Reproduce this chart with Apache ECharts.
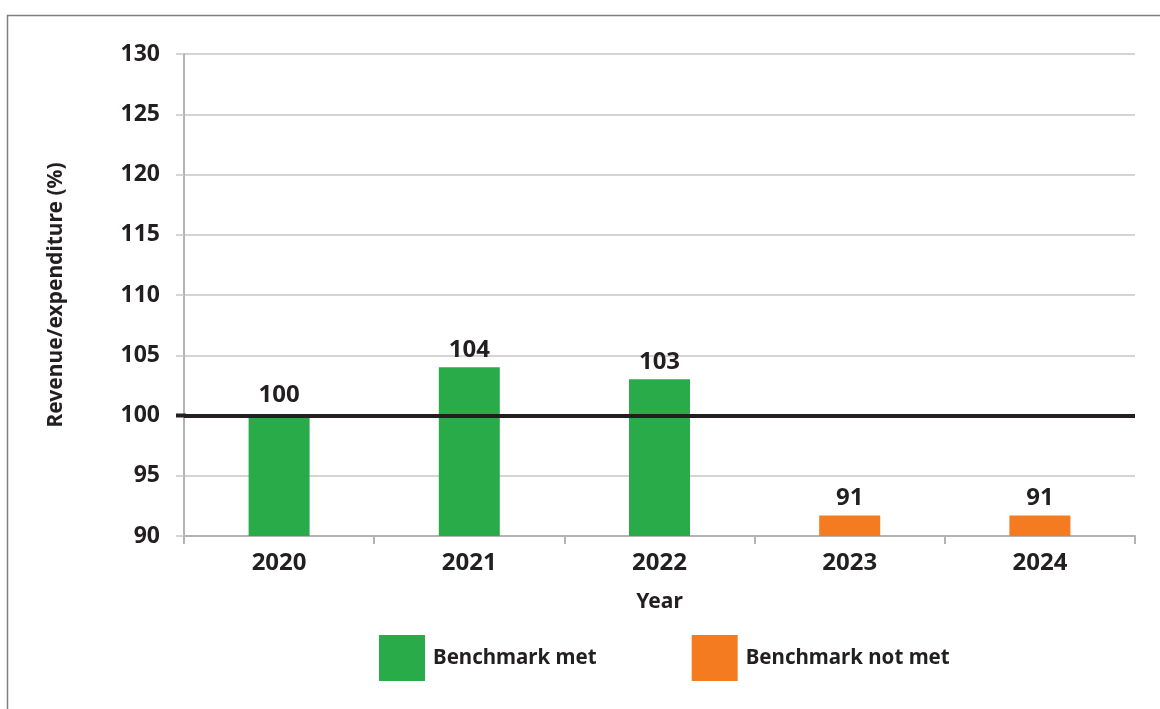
<!DOCTYPE html>
<html>
<head>
<meta charset="utf-8">
<script src="https://cdn.jsdelivr.net/npm/echarts@6/dist/echarts.min.js"></script>
<style>
html,body{margin:0;padding:0;background:#fff;}
#chart{width:1160px;height:709px;}
</style>
</head>
<body>
<div id="chart"></div>
<script>
const categories = ['2020', '2021', '2022', '2023', '2024'];
const metValues = [100, 104, 103, null, null];
const notMetValues = [null, null, null, 91.7, 91.7];
const barLabels = ['100', '104', '103', '91', '91'];
const benchmark = 100;
const yTicks = { min: 90, max: 130, interval: 5 };

const FONT = 'Noto Sans';
const TXT = '#231f20';
const chart = echarts.init(document.getElementById('chart'));

const labelCfg = {
  show: true,
  position: 'top',
  distance: 5,
  color: TXT,
  fontFamily: FONT,
  fontWeight: 'bold',
  fontSize: 24,
  formatter: p => barLabels[p.dataIndex]
};

// the label sitting on the benchmark line is lifted clear of it
const metData = metValues.map(v => (v === benchmark ? { value: v, label: { distance: 8 } } : v));

chart.setOption({
  animation: false,
  backgroundColor: '#fff',
  grid: { left: 184, right: 25, top: 54, bottom: 173 },
  legend: {
    left: 379,
    top: 635,
    padding: 0,
    itemWidth: 46,
    itemHeight: 46,
    itemGap: 95,
    icon: 'rect',
    textStyle: { color: TXT, fontFamily: FONT, fontWeight: 'bold', fontSize: 20.5, padding: [4, 0, 0, 3] },
    data: ['Benchmark met', 'Benchmark not met']
  },
  xAxis: {
    type: 'category',
    data: categories,
    boundaryGap: true,
    name: 'Year',
    nameLocation: 'middle',
    nameGap: 56,
    nameTextStyle: { color: TXT, fontFamily: FONT, fontWeight: 'bold', fontSize: 21 },
    axisLine: { lineStyle: { color: '#b3b3b3', width: 2 } },
    axisTick: { show: true, length: 8, alignWithLabel: false, lineStyle: { color: '#b3b3b3', width: 2 } },
    axisLabel: { color: TXT, fontFamily: FONT, fontWeight: 'bold', fontSize: 24, margin: 15 }
  },
  yAxis: {
    type: 'value',
    min: yTicks.min,
    max: yTicks.max,
    interval: yTicks.interval,
    name: 'Revenue/expenditure (%)',
    nameLocation: 'middle',
    nameRotate: 90,
    nameGap: 117,
    nameTextStyle: { color: TXT, fontFamily: FONT, fontWeight: 'bold', fontSize: 21 },
    axisLine: { show: true, lineStyle: { color: '#b3b3b3', width: 2 } },
    axisTick: { show: true, length: 8, lineStyle: { color: '#c6c6c6', width: 1.5 } },
    splitLine: { show: true, lineStyle: { color: '#c6c6c6', width: 1.5 } },
    axisLabel: { color: TXT, fontFamily: FONT, fontWeight: 'bold', fontSize: 23, margin: 24 }
  },
  series: [
    {
      name: 'Benchmark met',
      type: 'bar',
      stack: 's',
      barWidth: 61,
      itemStyle: { color: '#2aab4a' },
      label: labelCfg,
      data: metData,
      markLine: {
        silent: true,
        symbol: 'none',
        label: { show: false },
        lineStyle: { color: TXT, width: 4, type: 'solid' },
        data: [{ yAxis: benchmark }],
        z: 10
      }
    },
    {
      name: 'Benchmark not met',
      type: 'bar',
      stack: 's',
      barWidth: 61,
      itemStyle: { color: '#f47b20' },
      label: labelCfg,
      data: notMetValues
    }
  ]
});

// extend the benchmark line over the tick area, positioned through the axis scale
const yPix = chart.convertToPixel({ yAxisIndex: 0 }, benchmark);
const xPix = chart.convertToPixel({ xAxisIndex: 0 }, categories[0]);
const axisLeft = xPix - (chart.convertToPixel({ xAxisIndex: 0 }, categories[1]) - xPix) / 2;
chart.setOption({
  graphic: [{
    type: 'rect',
    z: -10,
    shape: { x: 7.5, y: 15.5, width: 1200, height: 800 },
    style: { fill: 'none', stroke: '#7f7f7f', lineWidth: 1.5 }
  }, {
    type: 'line',
    z: 100,
    shape: { x1: axisLeft - 8, y1: yPix, x2: axisLeft + 2, y2: yPix },
    style: { stroke: TXT, lineWidth: 4 }
  }]
});
</script>
</body>
</html>
